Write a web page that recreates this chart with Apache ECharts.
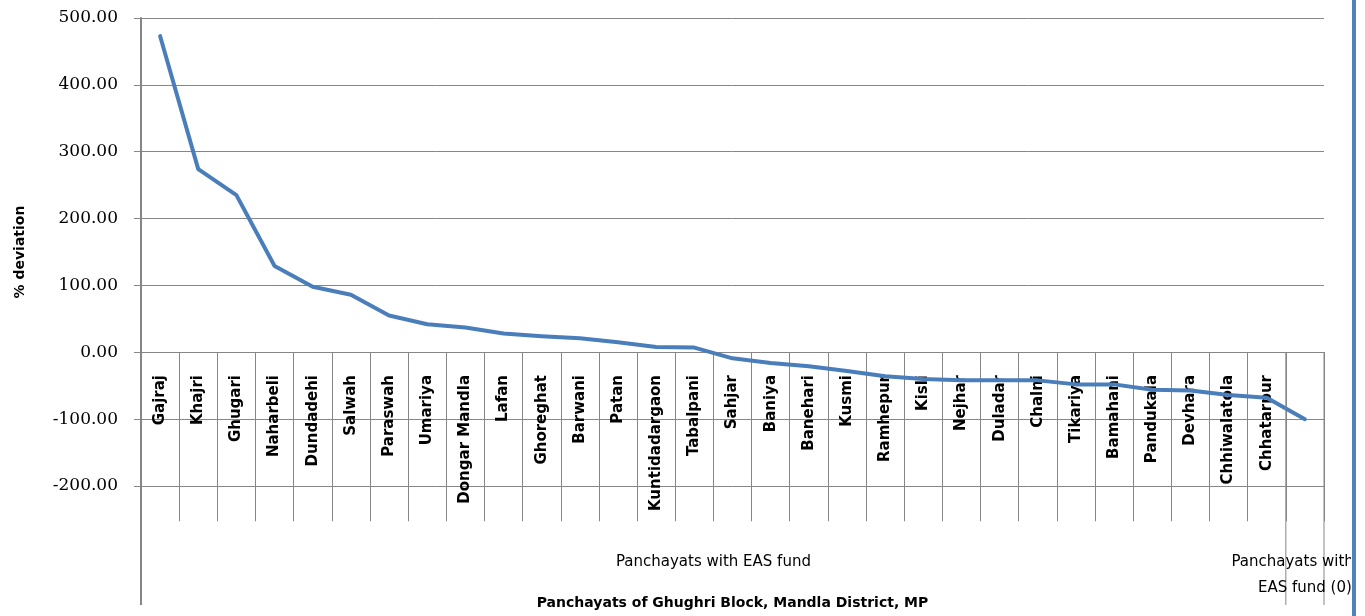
<!DOCTYPE html>
<html>
<head>
<meta charset="utf-8">
<script src="https://cdn.jsdelivr.net/npm/echarts@6/dist/echarts.min.js"></script>
<style>
  html, body { margin: 0; padding: 0; background: #fff; }
  #main { width: 1365px; height: 616px; }
</style>
</head>
<body>
<div id="main"></div>
<script>
// panchayats, sorted by % deviation (last one is the group without EAS fund)
var panchayats = ['Gajraj', 'Khajri', 'Ghugari', 'Naharbeli', 'Dundadehi', 'Salwah', 'Paraswah', 'Umariya',
  'Dongar Mandla', 'Lafan', 'Ghoreghat', 'Barwani', 'Patan', 'Kuntidadargaon', 'Tabalpani', 'Sahjar',
  'Baniya', 'Banehari', 'Kusmi', 'Ramhepur', 'Kisli', 'Nejhar', 'Duladar', 'Chalni', 'Tikariya',
  'Bamahani', 'Pandukala', 'Devhara', 'Chhiwalatola', 'Chhatarpur', ''];
var deviation = [473, 274, 235, 129, 98, 86, 55, 42, 37, 28, 24, 21, 15, 8, 7, -9,
  -16, -21, -28, -36, -40, -42, -42, -42, -48, -48, -56, -57, -64, -68, -100];
// second level of the category axis
var groupNames = ['Panchayats with EAS fund', 'Panchayats without\nEAS fund (0)'];
var groupSizes = [30, 1];
var yTicks = [-200, -100, 0, 100, 200, 300, 400, 500];

var grey = '#868686';
var chart = echarts.init(document.getElementById('main'));

var option = {
  animation: false,
  backgroundColor: '#fff',
  grid: { left: 141, right: 41, top: 18, bottom: 130, containLabel: false, outerBoundsMode: 'none' },
  xAxis: {
    type: 'category',
    data: panchayats,
    boundaryGap: true,
    name: 'Panchayats of Ghughri Block, Mandla District, MP',
    nameLocation: 'middle',
    nameGap: 110,
    nameTextStyle: { fontFamily: 'DejaVu Sans', fontWeight: 'bold', fontSize: 14, color: '#000' },
    axisLine: { onZero: true, lineStyle: { color: grey, width: 1 } },
    axisTick: { show: true, interval: 0, length: 169, lineStyle: { color: grey, width: 1 } },
    axisLabel: {
      interval: 0, rotate: 90, margin: -111,
      fontFamily: 'DejaVu Sans', fontWeight: 'bold', fontSize: 15, color: '#000'
    },
    splitLine: { show: false }
  },
  yAxis: {
    type: 'value',
    min: yTicks[0],
    max: yTicks[yTicks.length - 1],
    interval: 100,
    name: '% deviation',
    nameLocation: 'middle',
    nameGap: 114,
    nameTextStyle: { fontFamily: 'DejaVu Sans', fontWeight: 'bold', fontSize: 14, color: '#000' },
    axisLine: { show: true, lineStyle: { color: grey, width: 2 } },
    axisTick: { show: true, length: 7, lineStyle: { color: grey } },
    axisLabel: {
      margin: 23,
      fontFamily: 'DejaVu Serif', fontSize: 17, color: '#000',
      formatter: function (v) { return v.toFixed(2); }
    },
    splitLine: { show: true, lineStyle: { color: grey, width: 1 } }
  },
  series: [{
    type: 'line',
    data: deviation,
    showSymbol: false,
    symbol: 'none',
    lineStyle: { color: '#4A7EBB', width: 4, cap: 'round', join: 'round' }
  }]
};

chart.setOption(option);

// multi-level category table drawn from the axis scales
var c0 = chart.convertToPixel({ xAxisIndex: 0 }, 0);
var c1 = chart.convertToPixel({ xAxisIndex: 0 }, 1);
var band = c1 - c0;
var left = c0 - band / 2;
var yZero = chart.convertToPixel({ yAxisIndex: 0 }, 0);
var yMin = chart.convertToPixel({ yAxisIndex: 0 }, yTicks[0]);
var H = chart.getHeight();
var bottom = H - 11;

var g = [];
// value axis continues through the label table
g.push({ type: 'line', shape: { x1: left, y1: yMin, x2: left, y2: bottom }, style: { stroke: grey, lineWidth: 2 }, z: 5 });
var start = 0;
groupSizes.forEach(function (n, i) {
  var a = left + start * band, b = left + (start + n) * band;
  g.push({ type: 'line', shape: { x1: b, y1: yZero, x2: b, y2: bottom }, style: { stroke: grey, lineWidth: 1 }, z: 5 });
  g.push({
    type: 'text', x: (a + b) / 2, y: yZero + 197, z: 5,
    style: {
      text: groupNames[i], align: 'center', verticalAlign: 'top', lineHeight: 26,
      fontFamily: 'DejaVu Sans', fontSize: 15, fill: '#000'
    }
  });
  start += n;
});
// frame edge on the right
g.push({ type: 'rect', shape: { x: 1351, y: 0, width: 14, height: H }, style: { fill: '#fff' }, z: 10 });
g.push({ type: 'rect', shape: { x: 1352, y: 0, width: 4, height: H }, style: { fill: '#4F81BD' }, z: 11 });

chart.setOption({ graphic: g });
</script>
</body>
</html>
